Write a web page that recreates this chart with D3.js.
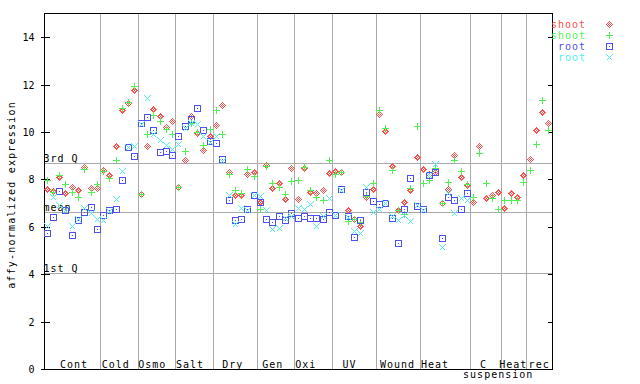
<!DOCTYPE html>
<html><head><meta charset="utf-8">
<script src="https://cdn.jsdelivr.net/npm/d3@7"></script>
<style>
html,body{margin:0;padding:0;background:#fff;}
svg{display:block;}
text{font-family:"DejaVu Sans Mono","Liberation Mono",monospace;}
</style></head><body>
<svg id="chart" width="640" height="384"></svg>
<script>
// ---- data ----
const groups = ["Cont","Cold","Osmo","Salt","Dry","Gen","Oxi","UV","Wound","Heat","C","Heat","rec"];
const groupSizes = [9,6,6,6,7,6,6,7,7,8,5,4,4];
const subLabel = "suspension";
const seriesNames = ["shoot","shoot","root","root"];

const shootA = [7.61,7.53,8.10,7.43,7.68,7.57,8.52,7.64,7.64,
  8.41,8.20,9.39,10.94,11.22,11.78,
  7.38,9.42,10.97,10.69,10.20,10.46,
  7.68,8.82,10.66,9.96,9.23,9.82,
  10.31,11.15,8.30,7.34,7.34,8.23,8.30,
  7.05,8.62,7.64,7.85,7.18,8.48,
  7.18,8.48,7.45,7.43,7.57,8.27,
  8.37,8.30,6.72,6.34,6.05,7.24,7.60,
  10.78,10.03,8.55,6.72,7.05,7.54,8.95,
  8.44,8.23,8.30,7.00,7.60,9.04,8.10,7.78,
  7.05,9.42,7.22,7.36,7.47,
  6.80,7.43,7.26,8.20,
  8.86,10.07,10.84,10.38];
const shootB = [7.99,7.45,8.17,7.81,7.47,7.26,8.45,7.47,7.82,
  8.34,8.06,8.83,11.01,11.25,11.92,
  7.38,9.93,10.73,10.45,10.13,9.92,
  7.68,9.20,10.38,10.00,9.44,10.14,
  10.94,9.92,8.23,7.57,7.43,8.44,8.16,
  6.75,8.55,7.85,7.68,7.40,7.92,
  7.96,8.52,7.57,7.26,7.12,8.80,
  8.24,8.30,6.23,6.33,6.19,7.30,7.85,
  10.92,10.17,8.41,6.72,6.56,7.64,10.27,
  7.85,7.99,8.48,7.00,7.89,8.83,8.37,7.82,
  7.26,9.11,7.85,7.22,6.75,
  7.12,7.15,7.12,7.89,
  8.41,9.51,11.36,10.10];
const rootA = [5.74,6.42,7.53,6.70,5.67,6.30,6.61,6.84,5.91,
  6.51,6.72,6.75,7.99,9.37,9.00,
  10.38,10.63,10.10,9.17,9.21,9.04,
  9.83,10.27,10.55,11.01,10.08,9.63,
  9.54,8.86,7.15,6.30,6.33,6.75,7.36,
  7.05,6.33,6.22,6.47,6.30,6.58,
  6.37,6.44,6.37,6.37,6.33,6.63,
  6.48,7.60,6.44,5.57,6.30,7.47,7.10,
  6.96,7.00,6.37,5.32,6.77,8.06,6.86,
  6.75,8.20,8.31,5.53,7.26,7.15,6.75,7.43,
  null,null,null,null,null,null,null,null,null,null,null,null,null];
const rootB = [6.02,7.26,6.94,6.72,6.02,6.33,6.79,6.58,6.33,
  6.27,6.65,7.19,8.37,9.37,9.39,
  10.34,11.43,9.91,9.65,9.44,9.28,
  9.51,10.17,10.40,10.35,9.82,9.56,
  9.82,8.76,7.34,6.13,6.80,6.70,7.36,
  7.31,6.72,5.92,5.95,6.37,6.44,
  6.80,6.75,6.98,6.02,6.44,7.22,
  6.50,7.57,6.40,5.84,5.74,7.68,6.63,
  6.75,7.00,6.47,6.30,6.50,6.26,6.94,
  6.72,8.20,8.66,5.15,7.43,6.59,7.22,7.15,
  null,null,null,null,null,null,null,null,null,null,null,null,null];
const yTicks = [0,2,4,6,8,10,12,14];
const refNames = ["3rd Q","mean","1st Q"];
const refValues = [8.69,6.63,4.05];

// ---- layout / style ----
const L = 44, R = 552, T = 14, B = 369.5;
const colors = ["#ff5050","#50f050","#5050f0","#50f0f0"];
const shapes = ["diamond","plus","square","cross"];
const labelOffsets = [16,1.2,0.2,0.3,9,5,0.4,10,3.6,0.7,9.5,-2.5,1.7];
const gray = "#aaaaaa";

const N = groupSizes.reduce((a,b)=>a+b,0);
const svg = d3.select("#chart");
const defs = svg.append("defs");
const pat = defs.append("pattern").attr("id","chk").attr("patternUnits","userSpaceOnUse")
  .attr("width",2).attr("height",2);
pat.append("rect").attr("x",0).attr("y",0).attr("width",1).attr("height",1).attr("fill",colors[0]);
pat.append("rect").attr("x",1).attr("y",1).attr("width",1).attr("height",1).attr("fill",colors[0]);

const x = d3.scaleLinear().domain([0,N]).range([L,R]);
const y = d3.scaleLinear().domain([0,15]).range([B,T]);
const crisp = v => Math.round(v-0.5)+0.5;

// group separators
let cum = 0;
const bounds = [];
groupSizes.forEach(s => { bounds.push(cum); cum += s; });
svg.append("g").attr("shape-rendering","crispEdges").selectAll("line").data(bounds.slice(1))
  .join("line")
  .attr("x1", d=>crisp(x(d))).attr("x2", d=>crisp(x(d)))
  .attr("y1", T).attr("y2", B)
  .attr("stroke", gray).attr("stroke-width",1);

// reference lines
svg.append("g").attr("shape-rendering","crispEdges").selectAll("line").data(refValues).join("line")
  .attr("x1", L).attr("x2", R)
  .attr("y1", d=>crisp(y(d))).attr("y2", d=>crisp(y(d)))
  .attr("stroke", gray).attr("stroke-width",1);
svg.append("g").selectAll("text").data(refValues).join("text")
  .attr("x", L-0.5).attr("y", d=>crisp(y(d))-1.5)
  .attr("font-size", 10).attr("letter-spacing", 1).attr("fill","#000")
  .text((d,i)=>refNames[i]);

// frame / axes
const fr = svg.append("g").attr("stroke","#000").attr("stroke-width",1).attr("shape-rendering","crispEdges");
fr.append("line").attr("x1",L).attr("x2",R+1).attr("y1",13.5).attr("y2",13.5);
fr.append("line").attr("x1",L).attr("x2",R+1).attr("y1",B).attr("y2",B);

const axL = svg.append("g").attr("transform",`translate(${L+0.5},0)`)
  .call(d3.axisLeft(y).tickValues(yTicks).tickSizeInner(4).tickSizeOuter(0).tickPadding(6).tickFormat(d3.format("d")));
const axLi = svg.append("g").attr("transform",`translate(${L+0.5},0)`)
  .call(d3.axisRight(y).tickValues(yTicks).tickSizeInner(5).tickSizeOuter(0).tickFormat(""));
const axR = svg.append("g").attr("transform",`translate(${R+0.5},0)`)
  .call(d3.axisLeft(y).tickValues(yTicks).tickSizeInner(5).tickSizeOuter(0).tickFormat(""));
[axL,axLi,axR].forEach(g=>{
  g.attr("shape-rendering","crispEdges");
  g.selectAll("path.domain").attr("stroke","#000").attr("d",`M0,13.5V${B}`);
  g.selectAll(".tick line").attr("stroke","#000");
  g.selectAll(".tick").attr("transform", d=>`translate(0,${crisp(y(d))})`);
});
axLi.selectAll(".tick text").remove();
axR.selectAll(".tick text").remove();
axL.selectAll(".tick text").attr("font-size",10).attr("font-family",'"DejaVu Sans Mono",monospace').attr("fill","#000");

// y title
svg.append("text").attr("transform","translate(14.5,195) rotate(-90)")
  .attr("text-anchor","middle").attr("font-size",10).attr("letter-spacing",1.2)
  .text("affy-normalized expression");

// group labels
svg.append("g").selectAll("text").data(groups).join("text")
  .attr("x",(d,i)=>x(bounds[i])+labelOffsets[i]).attr("y",367.5)
  .attr("font-size",10).attr("letter-spacing",1).text(d=>d);
svg.append("text").attr("x",(x(bounds[10])+x(bounds[12]))/2 - 0.5).attr("y",378)
  .attr("text-anchor","middle").attr("font-size",10).attr("letter-spacing",1).text(subLabel);

// markers
function markerPath(shape, cx, cy){
  const r = 3;
  if(shape==="diamond") return `M${cx},${cy-r}L${cx+r},${cy}L${cx},${cy+r}L${cx-r},${cy}Z`;
  if(shape==="plus") return `M${cx-r-0.5},${cy}H${cx+r+0.5}M${cx},${cy-r-0.5}V${cy+r+0.5}`;
  if(shape==="square") return `M${cx-r},${cy-r}H${cx+r}V${cy+r}H${cx-r}Z M${cx-0.5},${cy}h1`;
  return `M${cx-r},${cy-r}L${cx+r},${cy+r}M${cx-r},${cy+r}L${cx+r},${cy-r}`;
}
function drawMarker(g, si, cx, cy){
  const p = g.append("path").attr("d", markerPath(shapes[si], cx, cy))
    .attr("stroke",colors[si]).attr("stroke-width",1).attr("shape-rendering","crispEdges");
  p.attr("fill", si===0 ? "url(#chk)" : "none");
}
const series = [shootA, shootB, rootA, rootB];
series.forEach((vals, si) => {
  const g = svg.append("g");
  vals.forEach((v,i)=>{
    if(v===null) return;
    drawMarker(g, si, crisp(x(i+0.5)), crisp(y(v)));
  });
});

// legend
const lg = svg.append("g");
seriesNames.forEach((nm,i)=>{
  const cy = 24 + i*11;
  lg.append("text").attr("x",551).attr("y",cy+3.5).attr("font-size",10).attr("letter-spacing",1)
    .attr("fill",colors[i]).attr("xml:space","preserve").text(i<2?nm:" "+nm);
  drawMarker(lg, i, 609.5, cy+0.5);
});
</script>
</body></html>
